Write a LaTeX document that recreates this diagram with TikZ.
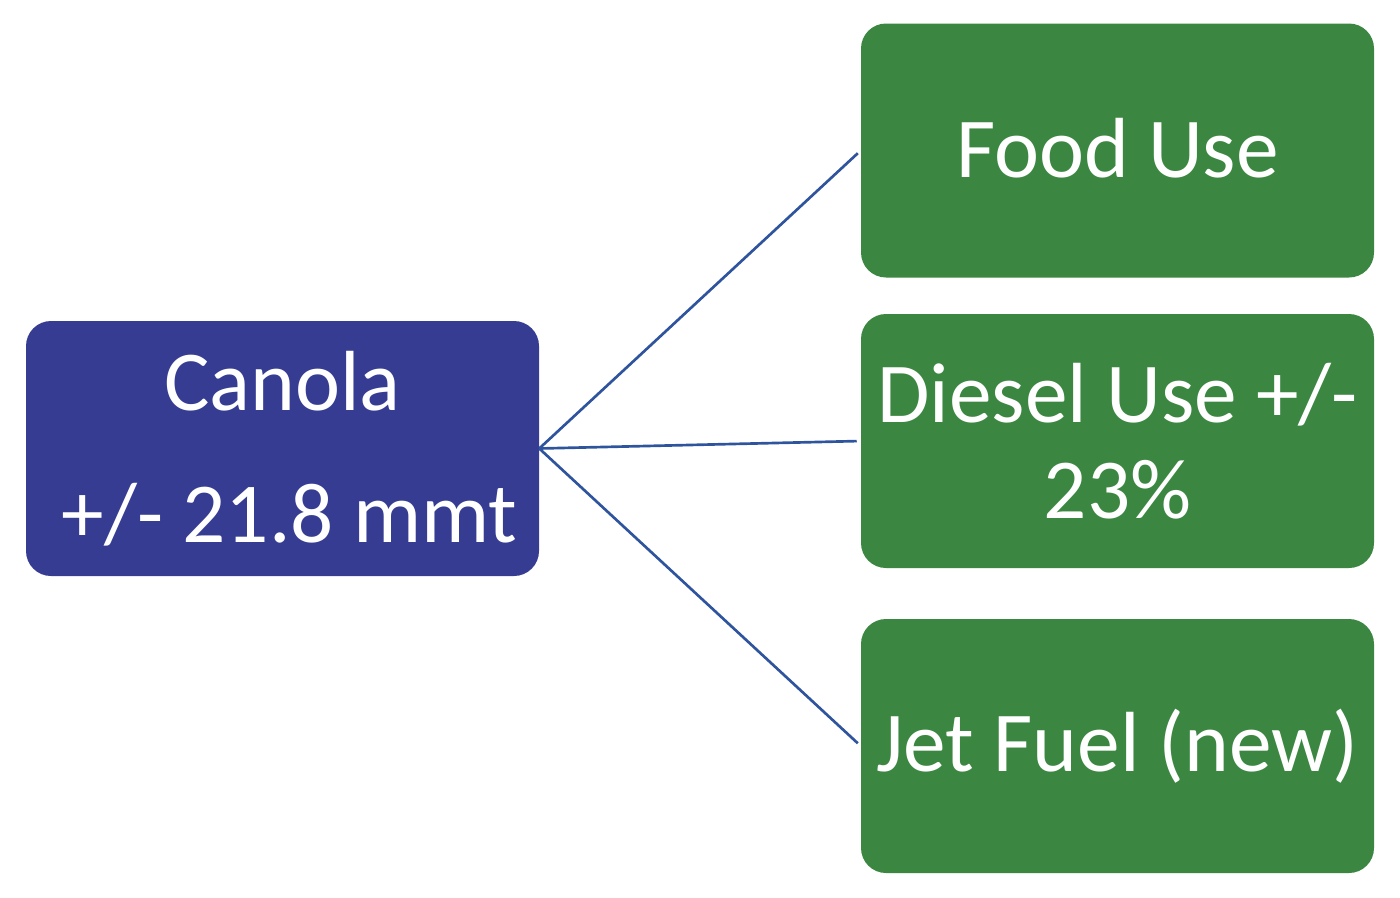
\documentclass[tikz,border=0pt]{standalone}
\usepackage{fontspec}
\setmainfont{Carlito}
\usetikzlibrary{shapes,arrows}
\definecolor{canolablue}{RGB}{53,60,146}
\definecolor{usegreen}{RGB}{59,135,65}
\definecolor{linkblue}{RGB}{47,84,158}
\tikzstyle{block} = [fill=usegreen, rectangle, rounded corners=18.75pt,
    minimum height=190.5pt, minimum width=384.75pt, text=white, align=center,
    font=\fontsize{64}{72}\selectfont, inner sep=0pt]
\tikzstyle{link} = [draw=linkblue, line width=2pt, shorten >=3pt]

\begin{document}
\begin{tikzpicture}[x=0.75pt,y=-0.75pt]
\useasboundingbox (0,0) rectangle (1400,897);
\coordinate (L) at (282.5,448.5);
\coordinate (R1) at (1117.5,150.5);
\coordinate (R2) at (1117.5,441);
\coordinate (R3) at (1117.5,746);

\node[block, fill=canolablue, minimum height=191.25pt] (canola) at (L) {Canola\\[27pt]\,+/- 21.8 mmt};
\node[block] (food) at (R1) {Food Use\rule[-4pt]{0pt}{1pt}};
\node[block] (diesel) at (R2) {Diesel Use +/-\\23\%};
\node[block] (jet) at (R3) {Jet Fuel (new)};

\draw[link] (canola.east) -- (food.west);
\draw[link] (canola.east) -- (diesel.west);
\draw[link] (canola.east) -- (jet.west);
\end{tikzpicture}
\end{document}
